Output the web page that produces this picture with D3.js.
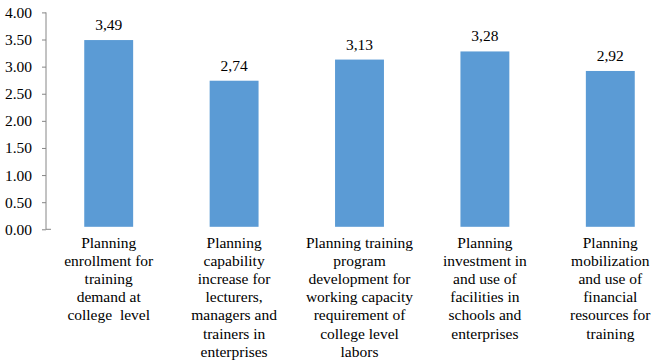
<!DOCTYPE html>
<html>
<head>
<meta charset="utf-8">
<script src="https://cdn.jsdelivr.net/npm/d3@7"></script>
<style>
  html, body { margin: 0; padding: 0; background: #fff; }
  svg { display: block; }
  svg text { font-family: 'Liberation Serif', 'Times New Roman', Times, serif !important; }
</style>
</head>
<body>
<svg id="chart" width="657" height="364"></svg>
<script>
const categories = [
  ["Planning", "enrollment for", "training", "demand at", "college  level"],
  ["Planning", "capability", "increase for", "lecturers,", "managers and", "trainers in", "enterprises"],
  ["Planning training", "program", "development for", "working capacity", "requirement of", "college level", "labors"],
  ["Planning", "investment in", "and use of", "facilities in", "schools and", "enterprises"],
  ["Planning", "mobilization", "and use of", "financial", "resources for", "training"]
];
const values = [3.49, 2.74, 3.13, 3.28, 2.92];
const valueLabels = ["3,49", "2,74", "3,13", "3,28", "2,92"];
const yTicks = [0, 0.5, 1, 1.5, 2, 2.5, 3, 3.5, 4];

const FONT = "'Liberation Serif', 'Times New Roman', Times, serif";
const svg = d3.select("#chart");
const idx = d3.range(values.length);

const x = d3.scaleBand().domain(idx).range([46, 673]).paddingInner(0.61).paddingOuter(0.305);
const y = d3.scaleLinear().domain([0, 4]).range([229.3, 12.4]);

// y axis
const yAxis = d3.axisLeft(y).tickValues(yTicks).tickFormat(d3.format(".2f")).tickSize(4).tickPadding(10);
const gy = svg.append("g").attr("transform", "translate(46,0)").call(yAxis)
  .attr("font-family", FONT).attr("font-size", null);
gy.select(".domain").attr("stroke", "#868686").attr("d", `M0,${y(4)}V${y(0)}`);
gy.selectAll(".tick line").attr("stroke", "#868686");
gy.selectAll(".tick text").attr("fill", "#000").style("font-size", "15.5px").style("font-family", FONT);
// small baseline stub
svg.append("line").attr("x1", 46).attr("x2", 51).attr("y1", y(0)).attr("y2", y(0)).attr("stroke", "#868686");

// bars
svg.selectAll("rect.bar").data(idx).enter().append("rect")
  .attr("class", "bar")
  .attr("x", i => x(i))
  .attr("width", x.bandwidth())
  .attr("y", i => y(values[i]))
  .attr("height", i => y(0) - 2.5 - y(values[i]))
  .attr("fill", "#5B9BD5");

// value labels
svg.selectAll("text.val").data(idx).enter().append("text")
  .attr("class", "val")
  .attr("x", i => x(i) + x.bandwidth() / 2)
  .attr("y", i => y(values[i]) - 10)
  .attr("text-anchor", "middle")
  .style("font-family", FONT)
  .style("font-size", "15.5px")
  .attr("fill", "#000")
  .text(i => valueLabels[i]);

// category labels
const lab = svg.selectAll("text.cat").data(idx).enter().append("text")
  .attr("class", "cat")
  .attr("text-anchor", "middle")
  .style("font-family", FONT)
  .style("font-size", "15.5px")
  .style("white-space", "pre")
  .attr("fill", "#000");
lab.each(function(i) {
  const t = d3.select(this);
  categories[i].forEach((line, k) => {
    t.append("tspan")
      .attr("x", x(i) + x.bandwidth() / 2)
      .attr("y", 248 + k * 18.1)
      .text(line);
  });
});
</script>
</body>
</html>
